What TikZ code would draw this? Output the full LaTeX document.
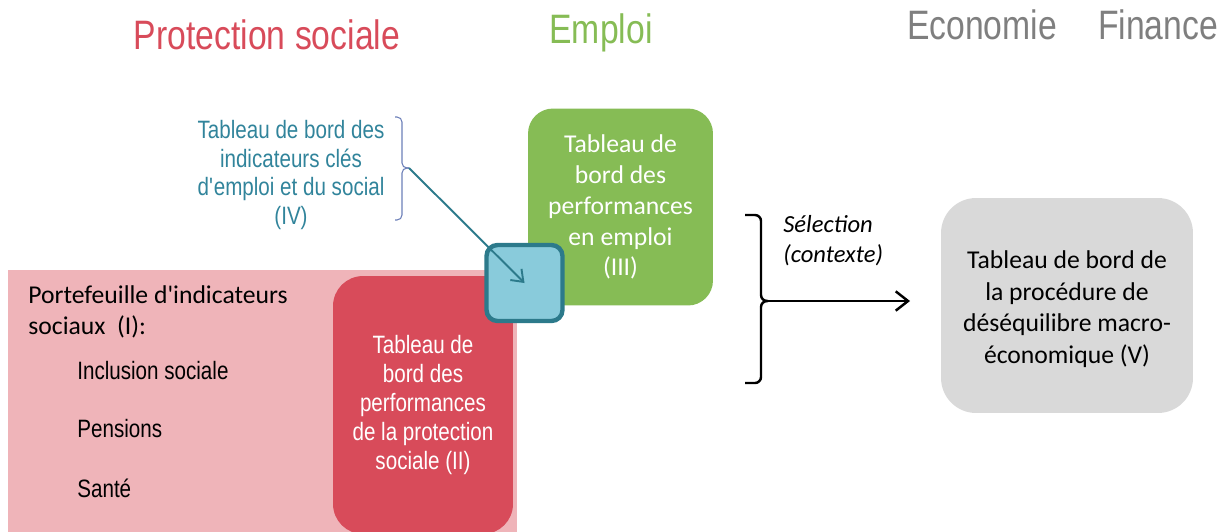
\documentclass[tikz,border=0pt]{standalone}
\usepackage{fontspec}
\setmainfont{Carlito}
\newfontfamily\narrowfont{Liberation Sans}[FakeStretch=0.82]
\usetikzlibrary{arrows.meta}
\definecolor{rouge}{HTML}{D84B5A}
\definecolor{rose}{HTML}{EFB4B9}
\definecolor{vert}{HTML}{86BC55}
\definecolor{bleu}{HTML}{89CBDB}
\definecolor{bleufonce}{HTML}{2C7A8B}
\definecolor{sarcelle}{HTML}{31849B}
\definecolor{ardoise}{HTML}{6C7FB8}
\definecolor{grisclair}{HTML}{D9D9D9}
\definecolor{gris}{HTML}{7F7F7F}
\begin{document}
\begin{tikzpicture}[x=0.02cm, y=-0.02cm,
        boite/.style={rectangle, inner sep=0pt, align=center},
        calibri/.style={font=\fontsize{14.6}{17.6}\selectfont},
        etroit/.style={font=\narrowfont\fontsize{14.3}{16.4}\selectfont},
        titre/.style={font=\narrowfont\fontsize{23.4}{27}\selectfont, anchor=base}]
            \useasboundingbox (0,0) rectangle (1229,531);
            \clip (0,0) rectangle (1229,531);
            \node[titre, text=rouge] (tprot) at (267,49) {Protection sociale};
            \node[titre, text=vert] (temploi) at (601,43) {Emploi};
            \node[titre, text=gris] (teco) at (982,39) {Economie};
            \node[titre, text=gris] (tfin) at (1158,39) {Finance};
            \node[boite, fill=rose, anchor=north west, minimum width=10.18cm, minimum height=5.4cm] (portef) at (8,270) {};
            \node[boite, etroit, fill=rouge, text=white, rounded corners=0.6cm, minimum width=3.6cm, minimum height=5.16cm] (protec) at (423,405)
                {Tableau de\\bord des\\performances\\de la protection\\sociale (II)};
            \node[boite, calibri, fill=vert, text=white, rounded corners=0.5cm, minimum width=3.7cm, minimum height=3.94cm] (emploi) at (620.5,207)
                {Tableau de\\bord des\\performances\\en emploi\\(III)};
            \node[boite, draw=bleufonce, line width=2.5pt, fill=bleu, rounded corners=0.22cm, minimum size=1.52cm] (carre) at (524.5,283) {};
            \node[boite, fill=grisclair, rounded corners=0.7cm, minimum width=5.04cm, minimum height=4.3cm] (macro) at (1067,305.5) {};
            \node[boite, font=\fontsize{14.6}{18}\selectfont] (macrotxt) at (1067,309)
                {Tableau de bord de\\la procédure de\\déséquilibre macro-\\économique (V)};
            \node[boite, etroit, text=sarcelle] (clesIV) at (291,175)
                {Tableau de bord des\\indicateurs clés\\d\textquotesingle emploi et du social\\(IV)};
            \node[calibri, inner sep=0pt, anchor=west, align=left] (portefI) at (28,312)
                {Portefeuille d\textquotesingle indicateurs\\sociaux\ \ (I):};
            \node[etroit, inner sep=0pt, anchor=west] (inclusion) at (77,371) {Inclusion sociale};
            \node[etroit, inner sep=0pt, anchor=west] (pensions) at (77,429) {Pensions};
            \node[etroit, inner sep=0pt, anchor=west] (sante) at (77,488) {Santé};
            \node[font=\itshape\fontsize{14}{17}\selectfont, inner sep=0pt, anchor=west, align=left] (selec) at (783,241)
                {Sélection\\(contexte)};
            \coordinate (pointe) at (409,168);
            \coordinate (choix) at (768,301);
            \coordinate (cible) at (910,301);
            \draw[ardoise, line width=0.6pt, rounded corners=0.1cm] (395,117) -- (402,117) -- (402,168) -- (pointe);
            \draw[ardoise, line width=0.6pt, rounded corners=0.1cm] (395,220) -- (402,220) -- (402,168) -- (pointe);
            \draw[line width=1.4pt, rounded corners=0.12cm] (745,215) -- (761,215) -- (761,301) -- (choix);
            \draw[line width=1.4pt, rounded corners=0.12cm] (745,383) -- (761,383) -- (761,301) -- (choix);
            \draw[bleufonce, line width=1.1pt, -{Straight Barb[length=6pt,width=9pt]}] (pointe) -- (carre.center);
            \draw[line width=1.4pt, -{Straight Barb[length=7pt,width=11pt]}] (choix) -- (cible);
        \end{tikzpicture}
\end{document}
